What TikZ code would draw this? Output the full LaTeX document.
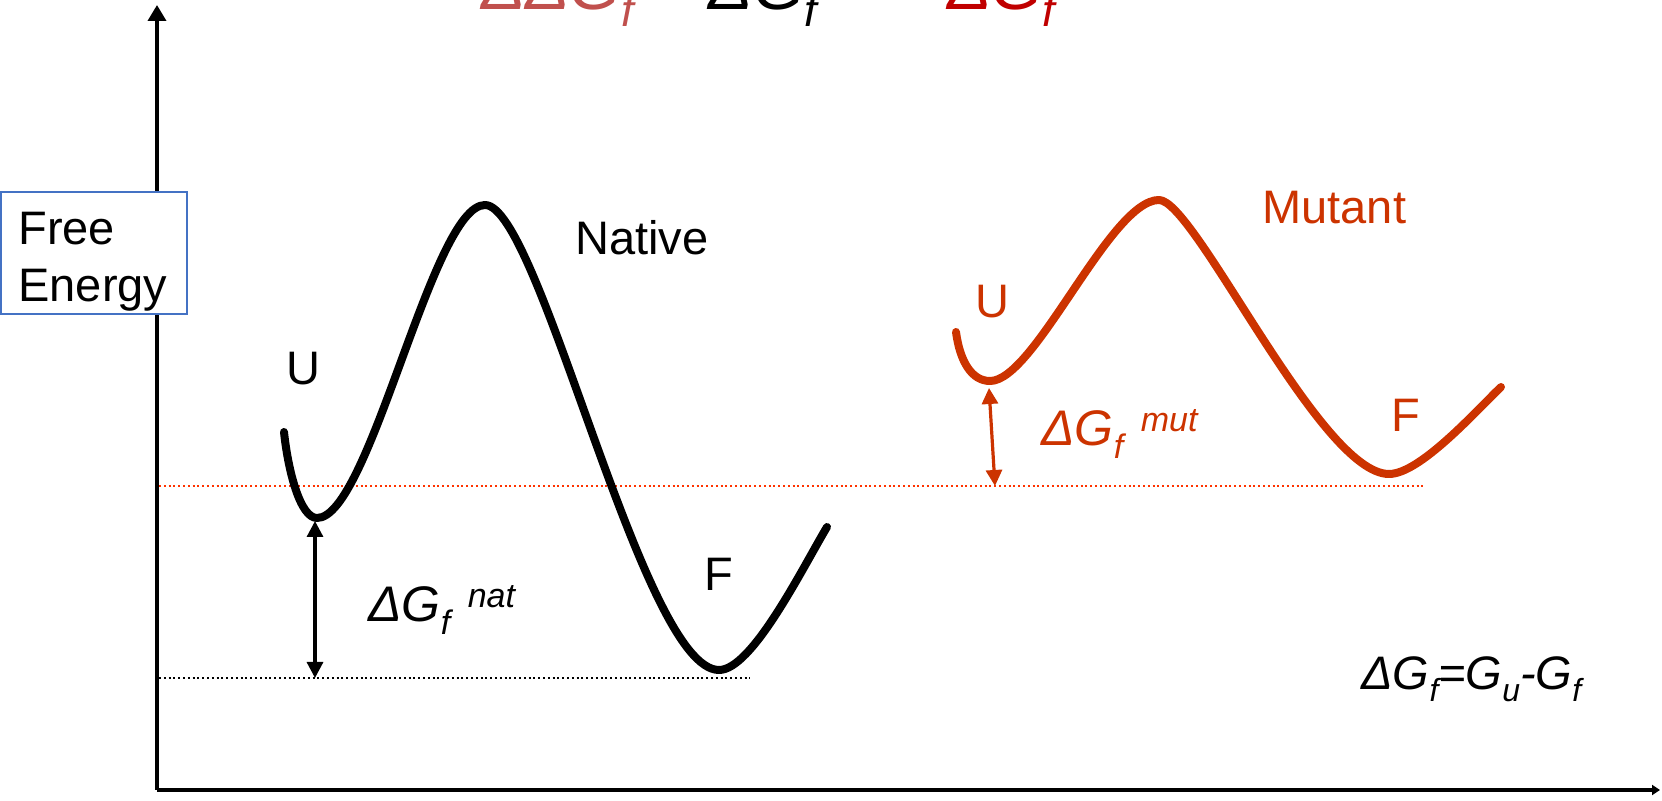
\documentclass[tikz,border=0pt]{standalone}
\usepackage{fontspec}
\usepackage{graphicx}
\setmainfont{Liberation Sans}
\usetikzlibrary{arrows.meta,positioning}

\definecolor{mutred}{HTML}{CC3300}
\definecolor{lvlred}{HTML}{FF3300}
\definecolor{ddgpink}{HTML}{C0504D}
\definecolor{deepred}{HTML}{C00000}
\definecolor{boxblue}{HTML}{4472C4}

% lowered and raised small text, as in the slide
\newcommand{\lsub}[1]{\raisebox{-0.25em}{\scalebox{0.68}{#1}}}
\newcommand{\lsup}[1]{\hspace{0.35em}\raisebox{0.28em}{\scalebox{0.68}{#1}}}

\begin{document}
\begin{tikzpicture}[
  x=0.5pt, y=-0.5pt,
  curve/.style={line width=4pt, line cap=round, line join=round},
  axis/.style={line width=1.8pt},
  gap/.style={line width=1.6pt,
    {Triangle[width=8pt,length=8pt]}-{Triangle[width=8pt,length=8pt]}},
  level/.style={line width=0.8pt, dash pattern=on 1pt off 1.4pt},
  lbl/.style={inner sep=0pt, anchor=base west,
    font=\fontsize{23.5}{28.5}\selectfont},
  dg/.style={inner sep=0pt, anchor=base west,
    font=\fontsize{25}{30}\selectfont\itshape},
]
  \useasboundingbox (0,0) rectangle (1662,801);
  \clip (0,0) rectangle (1662,801);
  % Axes
  \coordinate (o) at (157,790);
  \coordinate (ytop) at (157,5);
  \coordinate (xend) at (1660,790);
  \draw[axis, -{Triangle[width=9pt,length=8pt]}] (o) -- (ytop);
  \draw[axis, -{Triangle[width=5pt,length=4pt]}] (o) -- (xend);
  % Axis label
  \node[draw=boxblue, fill=white, line width=0.8pt, anchor=north west,
    minimum width=93pt, minimum height=61pt] (ebox) at (0,191) {};
  \node[inner sep=0pt, anchor=north west, align=left,
    font=\fontsize{23.5}{28.5}\selectfont] (elabel) at (18,212)
    {Free\\Energy};
  % Energy levels
  \coordinate (natlo) at (159,678);
  \coordinate (natlo-e) at (750,678);
  \coordinate (mutlo) at (159,486);
  \coordinate (mutlo-e) at (1424,486);
  \draw[level, black] (natlo) -- (natlo-e);
  \draw[level, lvlred] (mutlo) -- (mutlo-e);
  % Native curve
  \coordinate (n0) at (284,432);
  \coordinate (nu) at (317,518);
  \coordinate (nt) at (485,205);
  \coordinate (nf) at (719,670);
  \coordinate (n1) at (827,527);
  \draw[curve] (n0) .. controls (288,470) and (300,518) .. (nu)
    .. controls (370,518) and (432,205) .. (nt)
    .. controls (540,205) and (642,670) .. (nf)
    .. controls (752,670) and (802,569) .. (n1);
  % Mutant curve
  \coordinate (m0) at (956,332);
  \coordinate (mu) at (990,381);
  \coordinate (mt) at (1159,200);
  \coordinate (mf) at (1389,474);
  \coordinate (m1) at (1501,387);
  \draw[curve, mutred] (m0) .. controls (960,362) and (972,381) .. (mu)
    .. controls (1035,381) and (1110,200) .. (mt)
    .. controls (1195,200) and (1320,474) .. (mf)
    .. controls (1420,474) and (1476,411) .. (m1);
  % Gaps
  \coordinate (natmin) at (315,521);
  \coordinate (natbot) at (315,678);
  \coordinate (mutmin) at (989,388);
  \coordinate (mutbot) at (995,486);
  \draw[gap] (natbot) -- (natmin);
  \draw[gap, mutred] (mutbot) -- (mutmin);
  % Labels
  \node[lbl] (natname) at (575,255) {Native};
  \node[lbl, mutred] (mutname) at (1262,224) {Mutant};
  \node[lbl] (natU) at (286,385) {U};
  \node[lbl] (natF) at (704,591) {F};
  \node[lbl, mutred] (mutU) at (975,318) {U};
  \node[lbl, mutred] (mutF) at (1391,432) {F};
  \node[dg] (dgnat) at (368,622) {ΔG\lsub{f}\lsup{nat}};
  \node[dg, mutred] (dgmut) at (1041,446) {ΔG\lsub{f}\lsup{mut}};
  \node[dg, font=\fontsize{23.5}{28}\selectfont\itshape] (dgdef)
    at (1361,690) {ΔG\lsub{f}=G\lsub{u}-G\lsub{f}};
  % Title (cut at the top edge)
  \node[dg, font=\fontsize{33}{40}\selectfont\itshape] (ddg) at (481,10)
    {\textcolor{ddgpink}{ΔΔG\lsub{f}} = ΔG\lsub{f}\lsup{nat}\hspace{0.06em}–\hspace{0.06em}\textcolor{deepred}{ΔG\lsub{f}\lsup{mut}}};
\end{tikzpicture}
\end{document}
